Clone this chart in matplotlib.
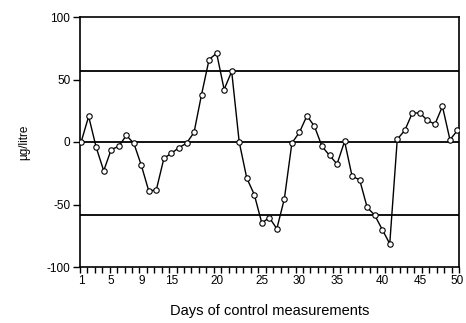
import numpy as np
import matplotlib
matplotlib.use("Agg")
import matplotlib.pyplot as plt

values = [0, 20.5, -4.3, -23, -6, -3.5, 5.3, -1, -18.7, -39.5,
          -38, -13, -9, -4.5, -1, 7.7, 38, 66, 71, 42,
          56.5, 0, -28.8, -42, -64.8, -60.5, -69.4, -45.4, -0.8, 7.7,
          21, 12.5, -3.5, -10.7, -17.6, 0.5, -27.5, -30.2, -52.3, -58.5,
          -70, -81.4, 2.2, 9.3, 23.2, 23.2, 17.3, 14.2, 28.5, 1.8,
          9.3]
index = list(range(len(values)))
control_lines = [57, 0, -58]
xtick_index = [0, 4, 8, 12, 18, 24, 29, 34, 40, 45, 50]
xtick_labels = ['1', '5', '9', '15', '20', '25', '30', '35', '40', '45', '50']
ytick_values = [-100, -50, 0, 50, 100]

plt.rcParams['font.family'] = ['Liberation Sans', 'DejaVu Sans']

fig = plt.figure(figsize=(4.66, 3.23), dpi=100)
ax = fig.add_axes([80/466, 1-267/323, (459-80)/466, (267-17)/323])

for c in control_lines:
    ax.axhline(c, color='black', lw=1.3, zorder=1)

ax.plot(index, values, color='black', lw=1.0, marker='o', markersize=3.9,
        markerfacecolor='white', markeredgecolor='black', markeredgewidth=0.8,
        zorder=3)

ax.set_xlim(-0.15, 50.2)
ax.set_ylim(-100, 100)
ax.set_yticks(ytick_values)
ax.set_yticklabels([str(v) for v in ytick_values])
ax.set_xticks(xtick_index)
ax.set_xticklabels(xtick_labels)
ax.set_xticks(np.linspace(-0.15, 50.2, 52), minor=True)
ax.tick_params(axis='x', which='major', length=0, pad=6, labelsize=8.5)
ax.tick_params(axis='x', which='minor', length=4, width=1, direction='out')
ax.tick_params(axis='y', length=5, width=1, direction='out', pad=2, labelsize=8.5)

for s in ax.spines.values():
    s.set_linewidth(1.2)
    s.set_color('black')

ax.set_ylabel('µg/litre', fontsize=8.5, labelpad=12)
ax.set_xlabel('Days of control measurements', fontsize=10.5, labelpad=12)

fig.savefig('out.png', dpi=100)
